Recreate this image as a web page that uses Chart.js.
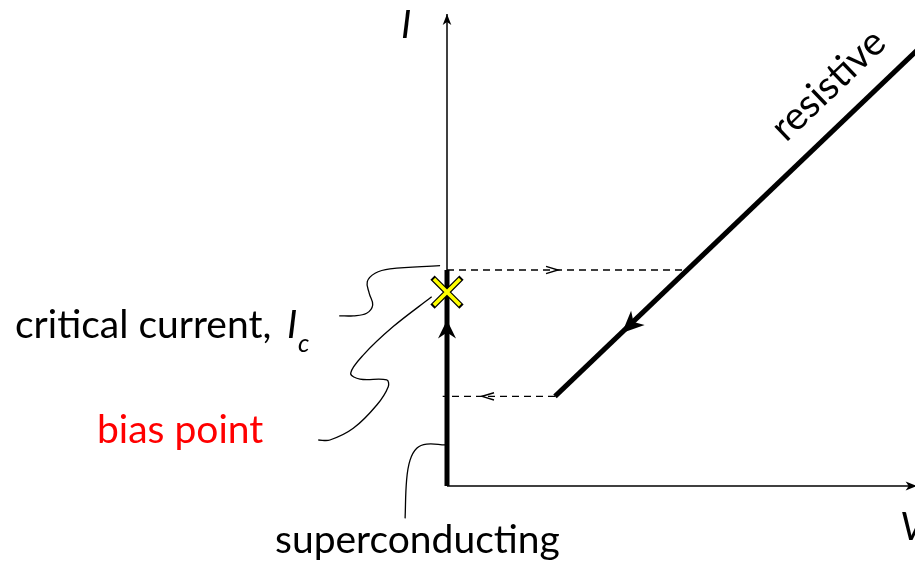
<!DOCTYPE html>
<html><head><meta charset="utf-8">
<script src="https://cdn.jsdelivr.net/npm/chart.js@4"></script>
<style>html,body{margin:0;padding:0;background:#fff;overflow:hidden}</style>
</head><body>
<canvas id="c" width="915" height="570"></canvas>
<script>
// ---- data (V and I; I normalised so that the critical current Ic = 1) ----
const superconductingV = [0, 0];
const superconductingI = [0, 1];
const resistiveV = [0.5, 2.2];
const resistiveI = [0.415, 2.04];
const switchDashV = [0, 1.11];
const switchDashI = [1, 1];
const retrapDashV = [0.5, -0.02];
const retrapDashI = [0.415, 0.415];
const biasPointV = [0];
const biasPointI = [0.898];
const axisIV = [0, 0];
const axisII = [0, 2.185];
const axisVV = [0, 2.165];
const axisVI = [0, 0];
// leader lines from the labels
const leaderIcV = [-0.032, -0.264, -0.333, -0.369, -0.360, -0.344, -0.372, -0.434, -0.499];
const leaderIcI = [1.020, 1.005, 0.985, 0.946, 0.892, 0.838, 0.800, 0.788, 0.788];
const leaderBiasV = [-0.071, -0.249, -0.388, -0.446, -0.403, -0.279, -0.272, -0.325, -0.434, -0.542, -0.596];
const leaderBiasI = [0.876, 0.738, 0.606, 0.522, 0.495, 0.491, 0.460, 0.375, 0.267, 0.213, 0.213];
const leaderScV = [-0.009, -0.094, -0.140, -0.171, -0.187, -0.194];
const leaderScI = [0.190, 0.194, 0.175, 0.120, 0.028, -0.150];
// arrow-head positions (tip) on the curves
const scArrow = [0, 0.769];
const resistiveArrow = [0.81, 0.708];
const switchArrow = [0.514, 1];
const retrapArrow = [0.162, 0.415];
// labels
const labelAxisI = 'I';
const labelAxisV = 'V';
const labelCritical = 'critical current,';
const labelBias = 'bias point';
const labelSc = 'superconducting';
const labelRes = 'resistive';

const pts = (xs, ys) => xs.map((x, k) => ({x, y: ys[k]}));
const FONT = 'Lato, "Open Sans", sans-serif';

function lineDs(xs, ys, width, extra) {
  return Object.assign({data: pts(xs, ys), showLine: true, borderColor: '#000', backgroundColor: '#000',
    borderWidth: width, pointRadius: 0, tension: 0, fill: false}, extra || {});
}

const datasets = [
  {data: pts(biasPointV, biasPointI), showLine: false, pointStyle: 'crossRot', pointRadius: 18.5,
   borderColor: '#ffff00', borderWidth: 3.6, pointBorderColor: '#ffff00', pointBorderWidth: 3.6},
  {data: pts(biasPointV, biasPointI), showLine: false, pointStyle: 'crossRot', pointRadius: 20.5,
   borderColor: '#000', borderWidth: 6, pointBorderColor: '#000', pointBorderWidth: 6},
  lineDs(superconductingV, superconductingI, 5, {borderCapStyle: 'butt'}),
  lineDs(resistiveV, resistiveI, 5, {borderCapStyle: 'butt'}),
  lineDs(switchDashV, switchDashI, 1.4, {borderDash: [7, 5]}),
  lineDs(retrapDashV, retrapDashI, 1.4, {borderDash: [7, 5]}),
  lineDs(axisIV, axisII, 1.5),
  lineDs(axisVV, axisVI, 1.5),
  lineDs(leaderIcV, leaderIcI, 1.3, {tension: 0.4}),
  lineDs(leaderBiasV, leaderBiasI, 1.3, {tension: 0.35}),
  lineDs(leaderScV, leaderScI, 1.3, {tension: 0.4})
];

function barbed(ctx, x, y, ang, L, W, notch) {
  const dx = Math.cos(ang), dy = Math.sin(ang), px = -dy, py = dx;
  ctx.beginPath();
  ctx.moveTo(x, y);
  ctx.lineTo(x - L * dx + W * px, y - L * dy + W * py);
  ctx.lineTo(x - (L - notch) * dx, y - (L - notch) * dy);
  ctx.lineTo(x - L * dx - W * px, y - L * dy - W * py);
  ctx.closePath();
  ctx.fillStyle = '#000';
  ctx.fill();
}
function chevron(ctx, x, y, ang, L, W) {
  const dx = Math.cos(ang), dy = Math.sin(ang), px = -dy, py = dx;
  ctx.beginPath();
  ctx.moveTo(x - L * dx + W * px, y - L * dy + W * py);
  ctx.lineTo(x, y);
  ctx.lineTo(x - L * dx - W * px, y - L * dy - W * py);
  ctx.strokeStyle = '#000';
  ctx.lineWidth = 1.4;
  ctx.setLineDash([]);
  ctx.stroke();
}

const decor = {
  id: 'decor',
  afterDatasetsDraw(chart) {
    const ctx = chart.ctx, xs = chart.scales.x, ys = chart.scales.y;
    const P = (v, i) => [xs.getPixelForValue(v), ys.getPixelForValue(i)];
    const dirOf = (V, I, from, to) => {
      const a = P(V[from], I[from]), b = P(V[to], I[to]);
      return Math.atan2(b[1] - a[1], b[0] - a[0]);
    };
    ctx.save();
    // axis arrow heads
    let p = P(axisIV[1], axisII[1]);
    barbed(ctx, p[0], p[1], dirOf(axisIV, axisII, 0, 1), 11, 4.3, 3);
    p = P(axisVV[1], axisVI[1]);
    barbed(ctx, p[0] + 2, p[1], dirOf(axisVV, axisVI, 0, 1), 11, 4.5, 3);
    // branch arrows
    p = P(scArrow[0], scArrow[1]);
    barbed(ctx, p[0], p[1], dirOf(superconductingV, superconductingI, 0, 1), 18.5, 9, 6);
    p = P(resistiveArrow[0], resistiveArrow[1]);
    barbed(ctx, p[0], p[1], dirOf(resistiveV, resistiveI, 1, 0), 22, 9.8, 6);
    p = P(switchArrow[0], switchArrow[1]);
    chevron(ctx, p[0], p[1], dirOf(switchDashV, switchDashI, 0, 1), 12, 3.6);
    p = P(retrapArrow[0], retrapArrow[1]);
    chevron(ctx, p[0], p[1], dirOf(retrapDashV, retrapDashI, 0, 1), 12, 3.6);

    // text
    ctx.fillStyle = '#000';
    ctx.textBaseline = 'alphabetic';
    ctx.textAlign = 'left';
    ctx.font = 'italic 39px ' + FONT;
    ctx.fillText(labelAxisI, 401, 38);
    ctx.fillText(labelAxisV, 900, 540);
    ctx.font = '39px ' + FONT;
    ctx.fillText(labelCritical, 15, 338);
    ctx.font = 'italic 39px ' + FONT;
    ctx.fillText('I', 287, 338);
    ctx.font = 'italic 25px ' + FONT;
    ctx.fillText('c', 298, 352);
    ctx.font = '39px ' + FONT;
    ctx.fillText(labelSc, 275, 553);
    ctx.fillStyle = '#ff0000';
    ctx.fillText(labelBias, 97, 443);
    // rotated label along the resistive branch
    ctx.fillStyle = '#000';
    const ang = dirOf(resistiveV, resistiveI, 0, 1);
    ctx.translate(786, 143);
    ctx.rotate(ang);
    ctx.fillText(labelRes, 0, 0);
    ctx.restore();
  }
};

new Chart(document.getElementById('c'), {
  type: 'scatter',
  data: {datasets},
  options: {
    responsive: false,
    animation: false,
    events: [],
    layout: {padding: 0, autoPadding: false},
    plugins: {legend: {display: false}, tooltip: {enabled: false}},
    scales: {
      x: {type: 'linear', display: false, min: -447 / 216, max: 468 / 216},
      y: {type: 'linear', display: false, min: -84 / 216, max: 486 / 216}
    }
  },
  plugins: [decor]
});
</script>
</body></html>
